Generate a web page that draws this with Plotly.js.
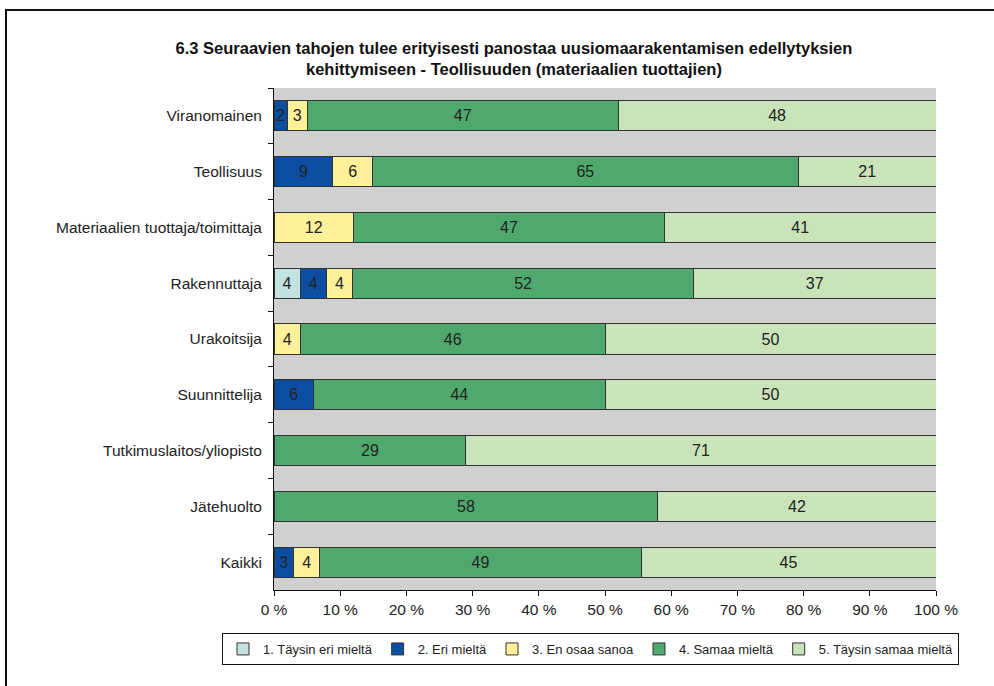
<!DOCTYPE html>
<html>
<head>
<meta charset="utf-8">
<script src="https://cdn.plot.ly/plotly-3.0.1.min.js"></script>
<style>
  html, body { margin: 0; padding: 0; background: #fff; overflow: hidden; }
  #frame { position: absolute; left: 5px; top: 9px; width: 1000px; height: 700px; border: 2px solid #111; box-sizing: border-box; }
  #chart { position: absolute; left: 0; top: 0; width: 994px; height: 686px; }
</style>
</head>
<body>
<div id="frame"></div>
<div id="chart"></div>
<script>
const categories = [
  "Viranomainen",
  "Teollisuus",
  "Materiaalien tuottaja/toimittaja",
  "Rakennuttaja",
  "Urakoitsija",
  "Suunnittelija",
  "Tutkimuslaitos/yliopisto",
  "Jätehuolto",
  "Kaikki"
];
const seriesNames = [
  "1. Täysin eri mieltä",
  "2. Eri mieltä",
  "3. En osaa sanoa",
  "4. Samaa mieltä",
  "5. Täysin samaa mieltä"
];
const s1 = [null, null, null, 4, null, null, null, null, null];
const s2 = [2, 9, null, 4, null, 6, null, null, 3];
const s3 = [3, 6, 12, 4, 4, null, null, null, 4];
const s4 = [47, 65, 47, 52, 46, 44, 29, 58, 49];
const s5 = [48, 21, 41, 37, 50, 50, 71, 42, 45];
const xTickVals = [0, 10, 20, 30, 40, 50, 60, 70, 80, 90, 100];
const titleText = "6.3 Seuraavien tahojen tulee erityisesti panostaa uusiomaarakentamisen edellytyksien<br>kehittymiseen - Teollisuuden (materiaalien tuottajien)";

const colors = ["#C2E3E0", "#0B4EA2", "#FFF09A", "#50A96C", "#C9E4B9"];
const allSeries = [s1, s2, s3, s4, s5];
const FONT = "Liberation Sans, Arial, sans-serif";

const traces = allSeries.map((vals, i) => ({
  type: "bar",
  orientation: "h",
  name: seriesNames[i],
  y: categories,
  x: vals,
  text: vals.map(v => v == null ? "" : String(v)),
  textposition: "inside",
  insidetextanchor: "middle",
  textangle: 0,
  constraintext: "none",
  textfont: { family: FONT, size: 16, color: "#222" },
  marker: { color: colors[i], line: { color: "#333", width: 1 } },
  hoverinfo: "skip"
}));

const layout = {
  width: 994,
  height: 686,
  paper_bgcolor: "rgba(0,0,0,0)",
  plot_bgcolor: "#D0D0D0",
  margin: { l: 274, r: 58, t: 88, b: 96, pad: 0, autoexpand: false },
  barmode: "stack",
  barnorm: "percent",
  bargap: 0.46,
  font: { family: FONT, size: 15.5, color: "#222" },
  title: {
    text: titleText,
    font: { family: FONT, size: 16.5, color: "#111", weight: "bold" },
    x: 0.3625,
    xref: "paper",
    xanchor: "center",
    yref: "container",
    y: 0.922,
    yanchor: "middle"
  },
  xaxis: {
    range: [0, 100],
    tickvals: xTickVals,
    ticktext: xTickVals.map(v => v + " %"),
    ticks: "outside",
    ticklen: 5,
    tickcolor: "#111",
    showgrid: false,
    zeroline: false,
    showline: true,
    linecolor: "#111",
    linewidth: 1,
    fixedrange: true,
    tickfont: { size: 15.5, color: "#222" }
  },
  yaxis: {
    type: "category",
    autorange: "reversed",
    ticks: "outside",
    tickson: "boundaries",
    ticklen: 5,
    tickcolor: "#111",
    showgrid: false,
    zeroline: false,
    showline: true,
    linecolor: "#111",
    linewidth: 1,
    fixedrange: true,
    ticklabelstandoff: 8,
    tickfont: { size: 15.5, color: "#222" }
  },
  showlegend: true,
  legend: {
    orientation: "h",
    xref: "paper",
    yref: "paper",
    x: (222 - 274) / 662,
    xanchor: "left",
    y: -(633 - 590) / 502,
    yanchor: "top",
    bordercolor: "#111",
    borderwidth: 1,
    bgcolor: "#fff",
    traceorder: "normal",
    font: { size: 13, color: "#222" },
    itemwidth: 30,
    tracegroupgap: 0
  }
};

Plotly.newPlot("chart", traces, layout, { displayModeBar: false, staticPlot: true });
</script>
</body>
</html>
